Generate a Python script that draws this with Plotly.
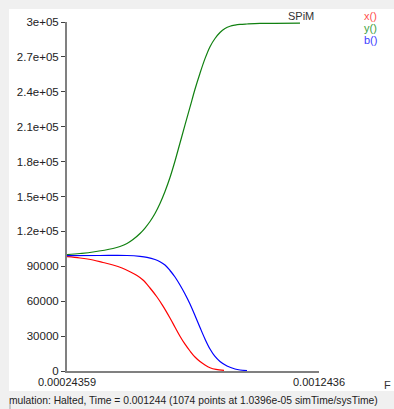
import plotly.graph_objects as go

# ---- data ----
t_x = [0.0002436, 0.0002952, 0.0003468, 0.0003865, 0.0004261, 0.0004619, 0.0004936, 0.0005214,
       0.0005452, 0.0005730, 0.0006007, 0.0006246, 0.0006523, 0.0006722, 0.0006920, 0.0007119,
       0.0007317, 0.0007515, 0.0007714, 0.0007912, 0.0008111, 0.0008349, 0.0008666]
v_x = [98250, 97130, 95420, 93270, 91120, 88540, 85360, 82090,
       78220, 71350, 63610, 55790, 45560, 37650, 29910, 23040,
       17190, 12030, 8170, 5160, 2840, 1380, 600]

t_y = [0.0002436, 0.0002952, 0.0003468, 0.0004261, 0.0004539, 0.0004817, 0.0005055, 0.0005333,
       0.0005531, 0.0005730, 0.0005928, 0.0006126, 0.0006325, 0.0006523, 0.0006722, 0.0006920,
       0.0007119, 0.0007317, 0.0007515, 0.0007714, 0.0007912, 0.0008111, 0.0008309, 0.0008507,
       0.0008706, 0.0008904, 0.0009103, 0.0009301, 0.0009579, 0.0010095, 0.0011682]
v_y = [100000, 101000, 102300, 105300, 107000, 109600, 113000, 118200,
       122900, 128500, 135400, 144000, 154300, 166300, 180500, 196000,
       211500, 226800, 242200, 256000, 268500, 278800, 285800, 291000,
       294400, 296300, 297300, 297900, 298300, 298800, 299100]

t_b = [0.0002436, 0.0003746, 0.0004817, 0.0005333, 0.0005611, 0.0005928, 0.0006126, 0.0006325,
       0.0006523, 0.0006722, 0.0006920, 0.0007119, 0.0007317, 0.0007515, 0.0007714, 0.0007912,
       0.0008111, 0.0008309, 0.0008507, 0.0008785, 0.0009103, 0.0009301, 0.0009579]
v_b = [99100, 99280, 99280, 98600, 97740, 95850, 93950, 91120,
       86390, 80800, 73930, 66190, 57590, 47710, 37400, 27500,
       18910, 12470, 8170, 4300, 1720, 860, 340]

y_ticks = [0, 30000, 60000, 90000, 120000, 150000, 180000, 210000, 240000, 270000, 300000]
y_tick_text = ["0", "30000", "60000", "90000", "1.2e+05", "1.5e+05", "1.8e+05", "2.1e+05", "2.4e+05", "2.7e+05", "3e+05"]
x_ticks = [0.00024359, 0.0012436]
x_tick_text = ["0.00024359", "0.0012436"]

series_names = ["x()", "y()", "b()"]
series_colors = ["#ff0000", "#108010", "#0000ff"]
label_colors = ["#ff5050", "#40a040", "#4040ff"]

status = "mulation: Halted, Time = 0.001244 (1074 points at 1.0396e-05 simTime/sysTime)"

# ---- figure ----
W, H = 394, 409
L, R, T, B = 67, 319, 22, 371

def px(xp):
    return (xp - L) / (R - L)

def py(yp):
    return (B - yp) / (B - T)

FONT = "Liberation Sans, Arial, sans-serif"

fig = go.Figure()
for tt, vv, c in zip([t_x, t_y, t_b], [v_x, v_y, v_b], series_colors):
    fig.add_trace(go.Scatter(x=tt, y=vv, mode="lines",
                             line=dict(color=c, width=1.2, shape="spline", smoothing=1.0),
                             showlegend=False, hoverinfo="skip"))

shapes = [
    dict(type="rect", xref="paper", yref="paper", x0=px(9), x1=px(400), y0=py(391), y1=py(9),
         fillcolor="white", line=dict(width=0), layer="below"),
    dict(type="line", xref="paper", yref="paper", x0=px(10), x1=px(10), y0=py(404), y1=py(409),
         line=dict(color="#a0a0a0", width=1)),
]

annotations = [
    dict(text="SPiM", x=px(301), y=py(16), xref="paper", yref="paper", showarrow=False,
         font=dict(family=FONT, size=11, color="#333"), xanchor="center", yanchor="middle"),
    dict(text="F", x=px(393), y=py(385), xref="paper", yref="paper", showarrow=False,
         font=dict(family=FONT, size=11, color="#333"), xanchor="right", yanchor="middle"),
    dict(text=status, x=px(7), y=py(400), xref="paper", yref="paper", showarrow=False,
         font=dict(family=FONT, size=10.3, color="#222"), xanchor="left", yanchor="middle"),
]
for i, (n, c) in enumerate(zip(series_names, label_colors)):
    annotations.append(dict(text=n, x=px(362), y=py(16 + 12 * i), xref="paper", yref="paper",
                            showarrow=False, font=dict(family=FONT, size=11, color=c),
                            xanchor="left", yanchor="middle"))

fig.update_layout(
    width=W, height=H,
    margin=dict(l=L, r=W - R, t=T, b=H - B, pad=0),
    paper_bgcolor="#f0f0f0", plot_bgcolor="rgba(0,0,0,0)",
    font=dict(family=FONT, size=11, color="#222"),
    shapes=shapes, annotations=annotations,
    xaxis=dict(range=[x_ticks[0], x_ticks[1]], tickvals=x_ticks, ticktext=x_tick_text,
               showgrid=False, zeroline=False, showline=True, linecolor="#808080", linewidth=2,
               ticks="inside", ticklen=3, tickcolor="#606060", tickfont=dict(size=11)),
    yaxis=dict(range=[0, 300000], tickvals=y_ticks, ticktext=y_tick_text,
               showgrid=False, zeroline=False, showline=True, linecolor="#808080", linewidth=2,
               ticks="outside", ticklen=4, tickcolor="#404040", tickfont=dict(size=11.5)),
)

fig.write_html("out.html", config={"displayModeBar": False},
               post_script="document.body.style.margin='0';document.body.style.overflow='hidden';")
